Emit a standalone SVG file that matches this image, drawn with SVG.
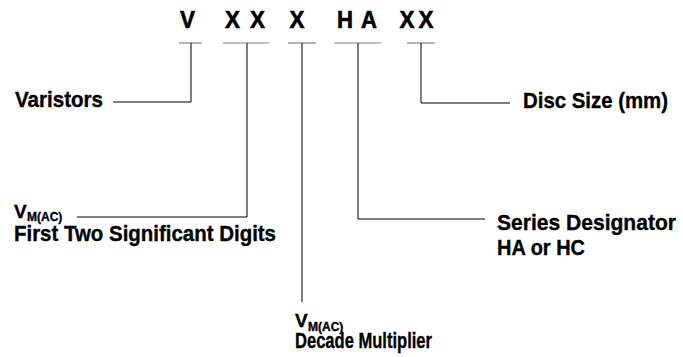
<svg xmlns="http://www.w3.org/2000/svg" width="683" height="357" viewBox="0 0 683 357">
<style>
text{font-family:"Liberation Sans",Arial,sans-serif;font-weight:bold;fill:#000;stroke:#000;stroke-width:0.35}
.code{font-size:24px;text-anchor:middle;stroke-width:0.6}
.lbl{font-size:22px}
.v{font-size:19px}
.sub{font-size:12px}
.ul{stroke:#808080;stroke-width:1.2;fill:none}
.conn{stroke:#000;stroke-width:1;fill:none}
</style>
<rect width="683" height="357" fill="#fff"/>
<g id="code">
  <g id="code-v"><text class="code" x="187.5" y="28" textLength="15" lengthAdjust="spacingAndGlyphs">V</text><line class="ul" x1="179" y1="43" x2="202" y2="43"/></g>
  <g id="code-xx"><text class="code" x="232.5" y="28" textLength="15" lengthAdjust="spacingAndGlyphs">X</text><text class="code" x="257.5" y="28" textLength="15" lengthAdjust="spacingAndGlyphs">X</text><line class="ul" x1="223" y1="43" x2="269" y2="43"/></g>
  <g id="code-x"><text class="code" x="297" y="28" textLength="15" lengthAdjust="spacingAndGlyphs">X</text><line class="ul" x1="288" y1="43" x2="316" y2="43"/></g>
  <g id="code-ha"><text class="code" x="345" y="28" textLength="16" lengthAdjust="spacingAndGlyphs">H</text><text class="code" x="369" y="28" textLength="16" lengthAdjust="spacingAndGlyphs">A</text><line class="ul" x1="334" y1="43" x2="381" y2="43"/></g>
  <g id="code-xx2"><text class="code" x="407" y="28" textLength="15" lengthAdjust="spacingAndGlyphs">X</text><text class="code" x="426" y="28" textLength="15" lengthAdjust="spacingAndGlyphs">X</text><line class="ul" x1="407" y1="43" x2="435" y2="43"/></g>
</g>
<g id="connectors">
  <path class="conn" d="M191,43 V102 H113"/>
  <path class="conn" d="M247,43 V217 H77"/>
  <path class="conn" d="M302,43 V302"/>
  <path class="conn" d="M358,43 V219 H485"/>
  <path class="conn" d="M421,43 V103 H510"/>
</g>
<g id="varistors"><text class="lbl" x="15" y="107" textLength="88" lengthAdjust="spacingAndGlyphs">Varistors</text></g>
<g id="first-two">
  <text class="v" x="14" y="218">V<tspan class="sub" x="27" dy="3">M(AC)</tspan></text>
  <text class="lbl" x="14" y="241" textLength="262" lengthAdjust="spacingAndGlyphs">First Two Significant Digits</text>
</g>
<g id="decade">
  <text class="v" x="295" y="327">V<tspan class="sub" x="308" dy="3.5">M(AC)</tspan></text>
  <text class="lbl" x="295" y="348" textLength="137" lengthAdjust="spacingAndGlyphs">Decade Multiplier</text>
</g>
<g id="series">
  <text class="lbl" x="497" y="230" textLength="179" lengthAdjust="spacingAndGlyphs" style="font-size:21.5px">Series Designator</text>
  <text class="lbl" x="497" y="255" textLength="88" lengthAdjust="spacingAndGlyphs">HA or HC</text>
</g>
<g id="disc"><text class="lbl" x="523" y="108" textLength="145" lengthAdjust="spacingAndGlyphs">Disc Size (mm)</text></g>
</svg>
